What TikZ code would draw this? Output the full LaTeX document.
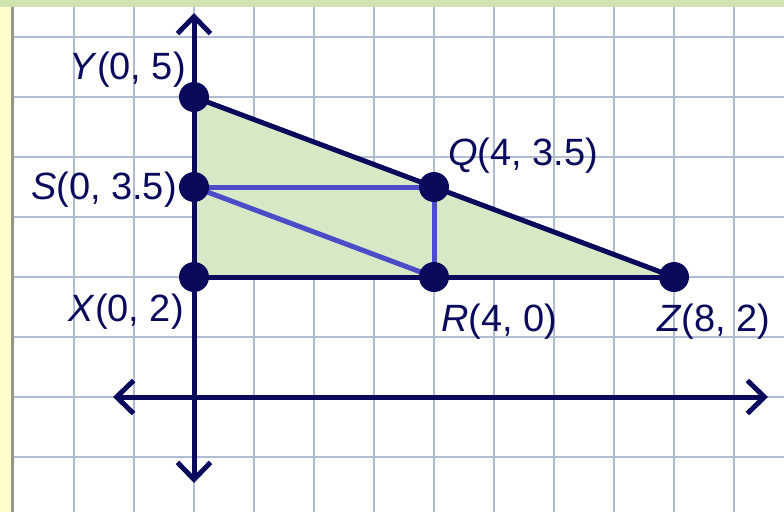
\documentclass[tikz,border=0pt]{standalone}
\usepackage{fontspec}
\setmainfont{Liberation Sans}
\usetikzlibrary{arrows.meta}
\definecolor{navy}{RGB}{10,10,92}
\definecolor{segblue}{RGB}{76,76,200}
\definecolor{trifill}{RGB}{214,232,198}
\definecolor{gridcol}{RGB}{176,188,210}
\definecolor{topband}{RGB}{208,228,178}
\definecolor{sideband}{RGB}{255,252,204}
\definecolor{sideline}{RGB}{150,150,140}
\tikzset{
  gridline/.style={draw=gridcol, line width=2pt},
  edge/.style={draw=navy, line width=5pt, line cap=round},
  seg/.style={draw=segblue, line width=5pt, line cap=round},
  axis/.style={draw=navy, line width=5pt, {Straight Barb[length=17pt,width=33pt]}-{Straight Barb[length=17pt,width=33pt]}},
  dot/.style={circle, fill=navy, inner sep=0pt, minimum size=30pt},
  lbl/.style={text=navy, inner sep=0pt, font=\fontsize{38}{44}\selectfont}
}
\begin{document}
\begin{tikzpicture}[x=1pt,y=-1pt]
\useasboundingbox (0,0) rectangle (784,512);
\fill[white] (0,0) rectangle (784,512);
\fill[sideband] (0,0) rectangle (12,512);
\foreach \gx in {74,134,...,734} {\draw[gridline] (\gx,7) -- (\gx,512);}
\foreach \gy in {37,97,...,457} {\draw[gridline] (14,\gy) -- (784,\gy);}
\fill[topband] (0,0) rectangle (784,7);
\draw[sideline, line width=3pt] (12.5,7) -- (12.5,512);

\coordinate (Y) at (194,97);
\coordinate (S) at (194,187);
\coordinate (Q) at (434,187);
\coordinate (X) at (194,277);
\coordinate (R) at (434,277);
\coordinate (Z) at (674,277);
\coordinate (yt) at (194,13);
\coordinate (yb) at (194,483);
\coordinate (xl) at (113,397);
\coordinate (xr) at (768,397);

\fill[trifill] (Y) -- (Z) -- (X) -- cycle;
\draw[seg] (S) -- (Q);
\draw[seg] (Q) -- (R);
\draw[seg] (S) -- (R);
\draw[edge] (Y) -- (Z);
\draw[edge] (X) -- (Z);
\draw[axis] (yb) -- (yt);
\draw[axis] (xl) -- (xr);

\node[dot] (dY) at (Y) {};
\node[dot] (dS) at (S) {};
\node[dot] (dQ) at (Q) {};
\node[dot] (dX) at (X) {};
\node[dot] (dR) at (R) {};
\node[dot] (dZ) at (Z) {};

\node[lbl, anchor=east] (lY) at (186,70) {\textit{Y}(0, 5)};
\node[lbl, anchor=east] (lS) at (177,190) {\textit{S}(0, 3.5)};
\node[lbl, anchor=west] (lQ) at (448,156) {\textit{Q}(4, 3.5)};
\node[lbl, anchor=east] (lX) at (184,312) {\textit{X}(0, 2)};
\node[lbl, anchor=west] (lR) at (441,322) {\textit{R}(4, 0)};
\node[lbl, anchor=west] (lZ) at (657,322) {\textit{Z}(8, 2)};
\end{tikzpicture}
\end{document}
